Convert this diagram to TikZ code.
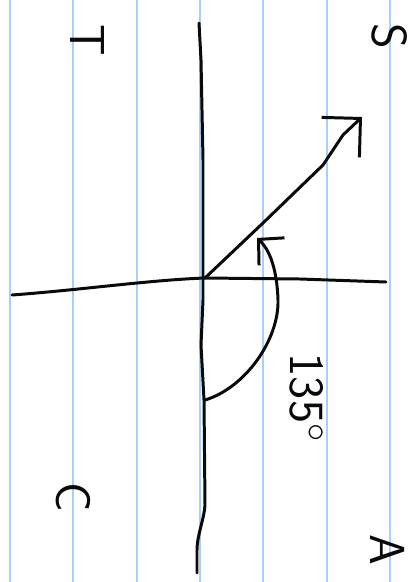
\documentclass[tikz,border=0pt]{standalone}
\usepackage{tikz}
\usetikzlibrary{arrows.meta}
\definecolor{cRule}{HTML}{A8CFFA}
\definecolor{cInk}{HTML}{0A0A0A}

\begin{document}
\begin{tikzpicture}[x=0.02cm, y=-0.02cm,
  rule/.style={draw=cRule, line width=1.1pt},
  ink/.style={draw=cInk, line width=1.7pt, line cap=round, line join=round},
  quad/.style={font=\sffamily\fontsize{28}{28}\selectfont, text=cInk, rotate=-90, inner sep=0pt},
  anglbl/.style={font=\sffamily\fontsize{28}{28}\selectfont, text=cInk, rotate=-90, inner sep=0pt}
]
\fill[white] (0,0) rectangle (417,582);
\useasboundingbox (0,0) rectangle (417,582);

% paper rules
\foreach \xr in {10,73,137,200,263,327,390}
  \draw[rule] (\xr,0) -- (\xr,582);

% axes
\coordinate (O) at (205,278);
\coordinate (top) at (199,23);
\coordinate (bot) at (197,573);
\coordinate (lft) at (12,295);
\coordinate (rgt) at (386,282);
\draw[ink] (top) -- (201,60) -- (203,160) -- (203,300) -- (201,345) -- (204,400)
  -- (205,505) .. controls (204,520) and (197,535) .. (197,550) -- (bot);
\draw[ink] (lft) .. controls (80,290) and (150,280) .. (O) -- (300,279) -- (rgt);

% terminal side
\coordinate (tip) at (362,117);
\draw[ink, -{Straight Barb[length=5.5mm,width=11mm,line width=1.7pt]}]
  (O) -- (263,223) -- (323,165) -- (343,135) -- (tip);

% angle arc
\coordinate (arcstart) at (205,400);
\coordinate (arcend) at (257,238);
\draw[ink, -{Straight Barb[length=3.6mm,width=7.5mm,line width=1.7pt]}]
  (arcstart) .. controls (245,388) and (279,340) .. (278,300)
  .. controls (277,270) and (270,250) .. (arcend);

% labels
\node[anglbl] (ang) at (307,398) {135$^{\circ}$};
\node[quad] (S) at (390,36) {S};
\node[quad] (T) at (87,40) {T};
\node[quad] (C) at (73,497) {C};
\node[quad] (A) at (388,550) {A};
\end{tikzpicture}
\end{document}
